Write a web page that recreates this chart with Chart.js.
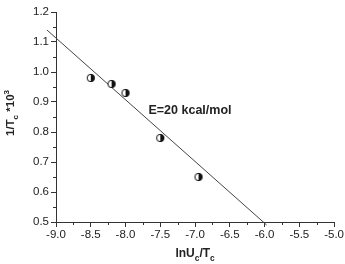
<html>
<head>
    <script src="https://cdn.jsdelivr.net/npm/chart.js@4/dist/chart.umd.min.js" type="text/javascript"></script>
    <style>
        body { margin: 0; background: #fff; }
        #chartcontainer { position: relative; width: 345px; height: 264px; }
    </style>
</head>
<body>
    <div id="chartcontainer">
        <canvas id="canvas" width="345" height="264"></canvas>
    </div>
    <script>
        // measured points
        var lnUT = [-8.5, -8.2, -8.0, -7.5, -6.95];
        var invT = [0.98, 0.96, 0.93, 0.78, 0.65];

        // fitted line ends
        var fitX = [-9.13, -5.97];
        var fitY = [1.14, 0.49];

        var xTickValues = [-9.0, -8.5, -8.0, -7.5, -7.0, -6.5, -6.0, -5.5, -5.0];
        var yTickValues = [0.5, 0.6, 0.7, 0.8, 0.9, 1.0, 1.1, 1.2];
        var xMinor = [-8.75, -8.25, -7.75, -7.25, -6.75, -6.25, -5.75, -5.25];
        var yMinor = [0.55, 0.65, 0.75, 0.85, 0.95, 1.05, 1.15];

        var noteText = 'E=20 kcal/mol';
        var noteX = -7.67, noteY = 0.873;

        var ink = '#222';

        function halfDot(r) {
            var c = document.createElement('canvas');
            var s = Math.ceil(r * 2 + 2);
            c.width = s; c.height = s;
            var g = c.getContext('2d');
            var m = s / 2;
            g.beginPath(); g.arc(m, m, r, 0, 2 * Math.PI); g.fillStyle = '#fff'; g.fill();
            g.beginPath(); g.arc(m, m, r, -Math.PI / 2, Math.PI / 2); g.closePath(); g.fillStyle = '#111'; g.fill();
            g.beginPath(); g.arc(m, m, r, 0, 2 * Math.PI); g.lineWidth = 1; g.strokeStyle = '#111'; g.stroke();
            return c;
        }

        // text with sub/superscripts: [text, 0 normal | 1 sub | 2 sup]
        function drawRich(g, parts, x, y, size) {
            var font = function (s) { return 'bold ' + s + 'px "Liberation Sans", Arial, sans-serif'; };
            var w = 0;
            parts.forEach(function (p) {
                g.font = font(p[1] ? size * 0.7 : size);
                w += g.measureText(p[0]).width;
            });
            var cx = x - w / 2;
            g.textBaseline = 'alphabetic';
            g.textAlign = 'left';
            g.fillStyle = ink;
            parts.forEach(function (p) {
                var s = p[1] ? size * 0.7 : size;
                g.font = font(s);
                var dy = p[1] === 1 ? size * 0.35 : (p[1] === 2 ? -size * 0.45 : 0);
                g.fillText(p[0], cx, y + dy);
                cx += g.measureText(p[0]).width;
            });
        }

        var extras = {
            id: 'extras',
            afterDraw: function (chart) {
                var g = chart.ctx;
                var xs = chart.scales.x, ys = chart.scales.y;
                var a = chart.chartArea;
                g.save();
                g.strokeStyle = '#333';
                g.lineWidth = 1;
                g.beginPath();
                xMinor.forEach(function (v) {
                    var px = Math.round(xs.getPixelForValue(v)) + 0.5;
                    g.moveTo(px, a.bottom); g.lineTo(px, a.bottom + 3);
                });
                yMinor.forEach(function (v) {
                    var py = Math.round(ys.getPixelForValue(v)) + 0.5;
                    g.moveTo(a.left, py); g.lineTo(a.left - 3, py);
                });
                g.stroke();

                g.fillStyle = ink;
                g.font = 'bold 12.5px "Liberation Sans", Arial, sans-serif';
                g.textAlign = 'left';
                g.textBaseline = 'middle';
                g.fillText(noteText, xs.getPixelForValue(noteX), ys.getPixelForValue(noteY));

                drawRich(g, [['lnU', 0], ['c', 1], ['/T', 0], ['c', 1]], (a.left + a.right) / 2, 257, 12);

                g.translate(14, (a.top + a.bottom) / 2 - 4);
                g.rotate(-Math.PI / 2);
                drawRich(g, [['1/T', 0], ['c', 1], [' *10', 0], ['3', 2]], 0, 0, 11.5);
                g.restore();
            }
        };

        var ctx = document.getElementById('canvas').getContext('2d');

        var config = {
            type: 'scatter',
            data: {
                datasets: [
                    {
                        label: 'data',
                        data: lnUT.map(function (x, i) { return { x: x, y: invT[i] }; }),
                        pointStyle: halfDot(3.7),
                        pointRadius: 4,
                        showLine: false
                    },
                    {
                        label: 'fit',
                        type: 'line',
                        data: fitX.map(function (x, i) { return { x: x, y: fitY[i] }; }),
                        borderColor: '#444',
                        borderWidth: 1,
                        pointRadius: 0,
                        clip: false
                    }
                ]
            },
            options: {
                responsive: false,
                animation: false,
                layout: { padding: { left: 0, top: 12, right: 10, bottom: 0 } },
                plugins: { legend: { display: false }, tooltip: { enabled: false } },
                scales: {
                    x: {
                        type: 'linear',
                        min: -9, max: -5,
                        afterBuildTicks: function (s) { s.ticks = xTickValues.map(function (v) { return { value: v }; }); },
                        afterFit: function (s) { s.height = 42; },
                        ticks: {
                            padding: 1,
                            color: ink,
                            font: { family: '"Liberation Sans", Arial, sans-serif', size: 11.5 },
                            callback: function (v) { return v.toFixed(1); }
                        },
                        grid: { drawOnChartArea: false, tickLength: 5, tickColor: '#333' },
                        border: { color: '#333', width: 1 }
                    },
                    y: {
                        type: 'linear',
                        min: 0.5, max: 1.2,
                        afterBuildTicks: function (s) { s.ticks = yTickValues.map(function (v) { return { value: v }; }); },
                        afterFit: function (s) { s.width = 56; },
                        ticks: {
                            padding: 2,
                            color: ink,
                            font: { family: '"Liberation Sans", Arial, sans-serif', size: 11.5 },
                            callback: function (v) { return v.toFixed(1); }
                        },
                        grid: { drawOnChartArea: false, tickLength: 5, tickColor: '#333' },
                        border: { color: '#333', width: 1 }
                    }
                }
            },
            plugins: [extras]
        };

        var chart = new Chart(ctx, config);
    </script>
</body>
</html>
